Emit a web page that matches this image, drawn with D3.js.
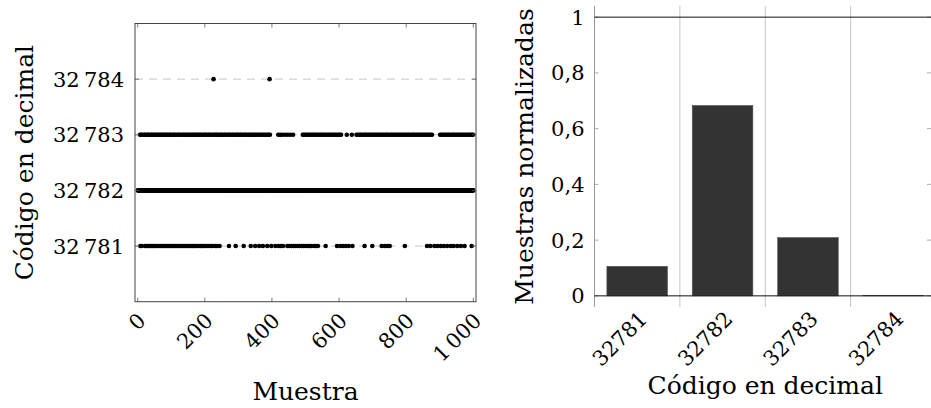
<!DOCTYPE html>
<html lang="es">
<head>
  <meta charset="UTF-8">
  <title>Muestras y histograma</title>
  <style>
    body, html { margin: 0; padding: 0; background: #fff; }
  </style>
</head>
<body>
  <svg id="svg" width="931" height="408"></svg>
  <script src="https://d3js.org/d3.v7.min.js"></script>
  <script>
    // sample indices (1..1000), for every code but 32782
    const samples32781 = [8, 12, 22, 27, 31, 36, 40, 44, 49, 53, 58, 62, 68, 73, 77, 82, 86, 91, 95, 100,
      105, 109, 114, 118, 124, 128, 133, 138, 142, 148, 153, 157, 162, 166, 170, 176, 182, 187, 191, 196,
      201, 207, 213, 219, 224, 232, 236, 244, 272, 292, 316, 337, 350, 362, 373, 386, 398, 410, 420, 426,
      433, 439, 446, 451, 458, 464, 470, 476, 482, 489, 494, 500, 507, 513, 518, 526, 532, 537, 560, 594,
      604, 612, 620, 629, 640, 676, 699, 727, 736, 744, 751, 796, 862, 872, 884, 893, 903, 912, 922, 933,
      941, 952, 963, 974, 995]
    const samples32783 = [7, 10, 14, 19, 21, 26, 30, 33, 38, 41, 45, 50, 52, 57, 61, 64, 69, 72, 76, 80,
      85, 87, 92, 96, 99, 104, 108, 111, 115, 120, 123, 127, 132, 135, 139, 144, 147, 151, 156, 158,
      163, 167, 171, 175, 178, 183, 186, 190, 195, 199, 202, 206, 211, 214, 218, 223, 228, 231, 235, 238,
      243, 247, 250, 254, 259, 262, 266, 271, 274, 278, 283, 286, 291, 295, 298, 303, 307, 310, 315, 319,
      322, 327, 331, 335, 339, 343, 347, 352, 356, 360, 365, 369, 374, 378, 383, 387, 391, 394,
      419, 425, 431, 439, 447, 455, 463,
      492, 496, 501, 505, 510, 514, 519, 522, 527, 531, 536, 540, 545, 549, 553, 558, 562, 567, 571, 575,
      580, 584, 589, 593, 598, 602, 606, 623, 638,
      652, 656, 661, 665, 669, 674, 678, 682, 687, 691, 695, 700, 704, 708, 713, 717, 721, 726, 730, 734,
      739, 743, 747, 752, 756, 760, 765, 769, 773, 778, 782, 786, 791, 795, 799, 804, 808, 812, 817, 821,
      825, 830, 834, 838, 843, 847, 851, 856, 860, 864, 869, 873, 877,
      901, 905, 910, 914, 918, 923, 927, 931, 936, 940, 944, 949, 953, 957, 962, 966, 970, 975, 979, 983,
      988, 992, 996, 999]
    const samples32784 = [226, 393]
    const sampleCount = 1000

    // histogram
    const codes = [32781, 32782, 32783, 32784]
    const frequencies = [0.106, 0.683, 0.209, 0.002]

    const xTicksLeft = [0, 200, 400, 600, 800, 1000]
    const yTicksLeft = [32781, 32782, 32783, 32784]
    const yTicksRight = [0, 0.2, 0.4, 0.6, 0.8, 1]

    const fmtThin = d => {
      const s = String(d)
      return s.length > 3 ? s.slice(0, -3) + '\u2009' + s.slice(-3) : s
    }
    const fmtComma = d => String(d).replace('.', ',')

    // build the per-sample series: every sample not listed elsewhere is 32782
    const special = new Map()
    samples32781.forEach(s => special.set(s, 32781))
    samples32783.forEach(s => special.set(s, 32783))
    samples32784.forEach(s => special.set(s, 32784))
    const series = d3.range(1, sampleCount + 1).map(s => ({ x: s, y: special.get(s) || 32782 }))

    const svg = d3.select('#svg')
      .attr('font-family', '"DejaVu Serif", "Liberation Serif", serif')
    const fs = 21      // tick labels
    const fsLabel = 25 // axis titles

    // ---------- left: scatter ----------
    const L = { left: 135, right: 476, top: 23.5, bottom: 301.7 }
    const x1 = d3.scaleLinear().domain([-8, 1008]).range([L.left, L.right])
    const y1 = d3.scaleLinear().domain([32780, 32785]).range([L.bottom, L.top])

    const g1 = svg.append('g')

    // dashed grid
    g1.selectAll('line.grid')
      .data(yTicksLeft)
      .enter()
      .append('line')
      .attr('x1', L.left).attr('x2', L.right)
      .attr('y1', d => y1(d)).attr('y2', d => y1(d))
      .attr('stroke', '#b8b8b8')
      .attr('stroke-width', 0.8)
      .attr('stroke-dasharray', '8,6')

    g1.selectAll('circle')
      .data(series)
      .enter()
      .append('circle')
      .attr('cx', d => x1(d.x))
      .attr('cy', d => y1(d.y))
      .attr('r', 2.3)
      .attr('fill', '#000')

    // ticks (inward, both sides)
    const tickLen = 4
    xTicksLeft.forEach(t => {
      g1.append('line').attr('x1', x1(t)).attr('x2', x1(t)).attr('y1', L.bottom).attr('y2', L.bottom - tickLen)
        .attr('stroke', '#555').attr('stroke-width', 0.8)
      g1.append('line').attr('x1', x1(t)).attr('x2', x1(t)).attr('y1', L.top).attr('y2', L.top + tickLen)
        .attr('stroke', '#555').attr('stroke-width', 0.8)
    })
    yTicksLeft.forEach(t => {
      g1.append('line').attr('x1', L.left).attr('x2', L.left + tickLen).attr('y1', y1(t)).attr('y2', y1(t))
        .attr('stroke', '#555').attr('stroke-width', 0.8)
      g1.append('line').attr('x1', L.right).attr('x2', L.right - tickLen).attr('y1', y1(t)).attr('y2', y1(t))
        .attr('stroke', '#555').attr('stroke-width', 0.8)
    })

    g1.append('rect')
      .attr('x', L.left).attr('y', L.top)
      .attr('width', L.right - L.left).attr('height', L.bottom - L.top)
      .attr('fill', 'none').attr('stroke', '#444').attr('stroke-width', 1)

    // tick labels
    g1.selectAll('text.ylab')
      .data(yTicksLeft)
      .enter()
      .append('text')
      .attr('x', L.left - 11)
      .attr('y', d => y1(d))
      .attr('dy', '0.36em')
      .attr('text-anchor', 'end')
      .attr('font-size', fs)
      .text(fmtThin)

    g1.selectAll('text.xlab')
      .data(xTicksLeft)
      .enter()
      .append('text')
      .attr('transform', d => `translate(${x1(d) + 4},${L.bottom + 15}) rotate(-45)`)
      .attr('dy', '0.36em')
      .attr('text-anchor', 'end')
      .attr('font-size', fs)
      .text(fmtThin)

    g1.append('text')
      .attr('x', (L.left + L.right) / 2)
      .attr('y', 400)
      .attr('text-anchor', 'middle')
      .attr('font-size', fsLabel)
      .text('Muestra')

    g1.append('text')
      .attr('transform', `translate(33,${(L.top + L.bottom) / 2}) rotate(-90)`)
      .attr('text-anchor', 'middle')
      .attr('font-size', fsLabel)
      .text('Código en decimal')

    // ---------- right: histogram ----------
    const R = { left: 594.5, right: 936, top: 6, bottom: 307 }
    const x2 = d3.scaleLinear().domain([32780.5, 32784.5]).range([R.left, R.right])
    const y2 = d3.scaleLinear().domain([-0.04, 1.04]).range([R.bottom, R.top])
    const barW = (x2(1) - x2(0)) * 0.71

    const g2 = svg.append('g')

    // separators between categories
    g2.selectAll('line.vgrid')
      .data(codes.slice(0, -1))
      .enter()
      .append('line')
      .attr('x1', d => x2(d + 0.5)).attr('x2', d => x2(d + 0.5))
      .attr('y1', R.top).attr('y2', R.bottom)
      .attr('stroke', '#c4c4c4').attr('stroke-width', 1)

    g2.append('line')
      .attr('x1', R.left).attr('x2', R.left)
      .attr('y1', R.top).attr('y2', R.bottom)
      .attr('stroke', '#999').attr('stroke-width', 1)

    g2.selectAll('rect')
      .data(codes)
      .enter()
      .append('rect')
      .attr('x', d => x2(d) - barW / 2)
      .attr('width', barW)
      .attr('y', (d, i) => y2(frequencies[i]))
      .attr('height', (d, i) => y2(0) - y2(frequencies[i]))
      .attr('fill', '#333')
      .attr('stroke', '#555')
      .attr('stroke-width', 0.6)

    // y ticks (gray, inward)
    yTicksRight.forEach(t => {
      g2.append('line').attr('x1', R.left).attr('x2', R.left + tickLen).attr('y1', y2(t)).attr('y2', y2(t))
        .attr('stroke', '#999').attr('stroke-width', 0.8)
      g2.append('line').attr('x1', 931).attr('x2', 931 - tickLen).attr('y1', y2(t)).attr('y2', y2(t))
        .attr('stroke', '#999').attr('stroke-width', 0.8)
    })

    // lines at 0 and 1
    ;[0, 1].forEach(v => {
      g2.append('line')
        .attr('x1', R.left).attr('x2', R.right)
        .attr('y1', y2(v)).attr('y2', y2(v))
        .attr('stroke', '#111').attr('stroke-width', 1)
    })

    g2.selectAll('text.ylab')
      .data(yTicksRight)
      .enter()
      .append('text')
      .attr('x', R.left - 10)
      .attr('y', d => y2(d))
      .attr('dy', '0.36em')
      .attr('text-anchor', 'end')
      .attr('font-size', fs)
      .text(fmtComma)

    g2.selectAll('text.xlab')
      .data(codes)
      .enter()
      .append('text')
      .attr('transform', d => `translate(${x2(d) + 6},${R.bottom + 8}) rotate(-45)`)
      .attr('dy', '0.36em')
      .attr('text-anchor', 'end')
      .attr('font-size', fs)
      .text(d => String(d))

    g2.append('text')
      .attr('x', (R.left + R.right) / 2)
      .attr('y', 394)
      .attr('text-anchor', 'middle')
      .attr('font-size', fsLabel)
      .text('Código en decimal')

    g2.append('text')
      .attr('transform', `translate(533,${(R.top + R.bottom) / 2}) rotate(-90)`)
      .attr('text-anchor', 'middle')
      .attr('font-size', fsLabel)
      .text('Muestras normalizadas')
  </script>
</body>
</html>
